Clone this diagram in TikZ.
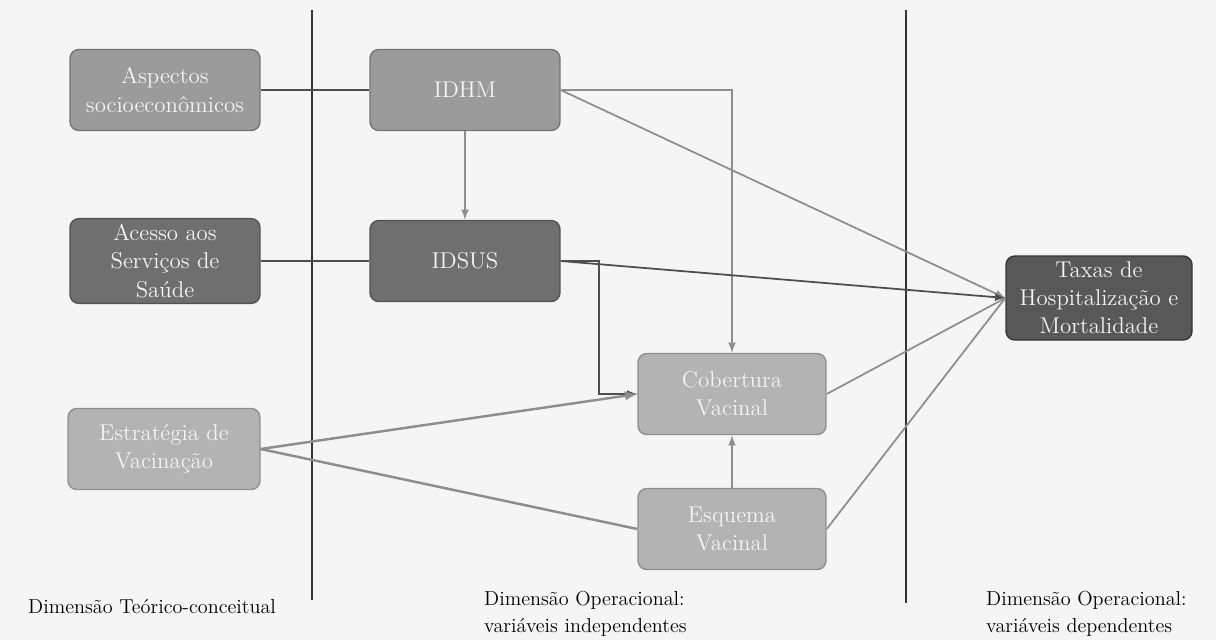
\documentclass[tikz,border=0pt]{standalone}
\usepackage{tikz}
\usetikzlibrary{positioning}
\definecolor{paper}{HTML}{F5F5F5}
\definecolor{midbox}{HTML}{9B9B9B}
\definecolor{darkbox}{HTML}{6F6F6F}
\definecolor{lightbox}{HTML}{B3B3B3}
\definecolor{outbox}{HTML}{585858}
\definecolor{boxtext}{HTML}{F4F4F4}
\definecolor{linkgray}{HTML}{8E8E8E}
\definecolor{linkdark}{HTML}{4E4E4E}

\begin{document}
\begin{tikzpicture}[x=0.02cm,y=-0.02cm,
   box/.style={draw, rounded corners=5pt, line width=0.8pt, minimum width=3.8cm,
      minimum height=1.62cm, align=center, text=boxtext,
      font=\fontsize{13}{16}\selectfont},
   midbx/.style={box, fill=midbox, draw=midbox!75!black},
   darkbx/.style={box, fill=darkbox, draw=darkbox!75!black},
   lightbx/.style={box, fill=lightbox, draw=lightbox!80!black},
   outbx/.style={box, fill=outbox, draw=outbox!60!black, minimum width=3.72cm, minimum height=1.66cm},
   dimtext/.style={anchor=west, align=left, font=\fontsize{11.5}{15.5}\selectfont},
   divider/.style={draw=black!80, line width=0.8pt},
   link/.style={draw=linkgray, line width=1pt},
   tie/.style={draw=linkdark, line width=1.3pt}]
   \fill[paper] (0,0) rectangle (1216,640);
   \useasboundingbox (0,0) rectangle (1216,640);

   % dimension dividers
   \coordinate (d1top) at (312,10);
   \coordinate (d1bot) at (312,600);
   \coordinate (d2top) at (906,10);
   \coordinate (d2bot) at (906,603);
   \path[divider] (d1top) -- (d1bot);
   \path[divider] (d2top) -- (d2bot);

   % boxes
   \node [midbx] (asp) at (165,90) {Aspectos\\socioecon\^omicos};
   \node [midbx] (idhm) at (465,90) {IDHM};
   \node [darkbx] (acesso) at (165,261) {Acesso aos\\Servi\c{c}os de\\Sa\'ude};
   \node [darkbx] (idsus) at (465,261) {IDSUS};
   \node [lightbx, minimum width=3.84cm] (estr) at (164,449) {Estrat\'egia de\\Vacina\c{c}\~ao};
   \node [lightbx, minimum width=3.76cm] (cob) at (732,394) {Cobertura\\Vacinal};
   \node [lightbx, minimum width=3.76cm] (esq) at (732,529) {Esquema\\Vacinal};
   \node [outbx] (taxas) at (1099,298) {Taxas de\\Hospitaliza\c{c}\~ao e\\Mortalidade};

   % connectors
   \path[tie] (asp) -- (idhm);
   \path[tie] (acesso) -- (idsus);
   \path[link,-latex] (idhm) -- (idsus);
   \path[link,-latex] (idhm.east) -- (taxas.west);
   \path[link,-latex] (idhm.east) -| (cob.north);
   \path[tie,line width=1pt,-latex] (idsus.east) -- (taxas.west);
   \path[tie,line width=1pt,-latex] (idsus.east) -- ++(38,0) |- (cob.west);
   \path[link,line width=1.4pt,-latex] (estr.east) -- (cob.west);
   \path[link,line width=1.4pt] (estr.east) -- (esq.west);
   \path[link,-latex] (esq) -- (cob);
   \path[link] (cob.east) -- (taxas.west);
   \path[link] (esq.east) -- (taxas.west);

   % dimension labels
   \node [dimtext] (dimteo) at (22,607) {Dimens\~ao Te\'orico-conceitual};
   \node [dimtext] (dimind) at (478,614) {Dimens\~ao Operacional:\\vari\'aveis independentes};
   \node [dimtext] (dimdep) at (980,614) {Dimens\~ao Operacional:\\vari\'aveis dependentes};
\end{tikzpicture}
\end{document}
